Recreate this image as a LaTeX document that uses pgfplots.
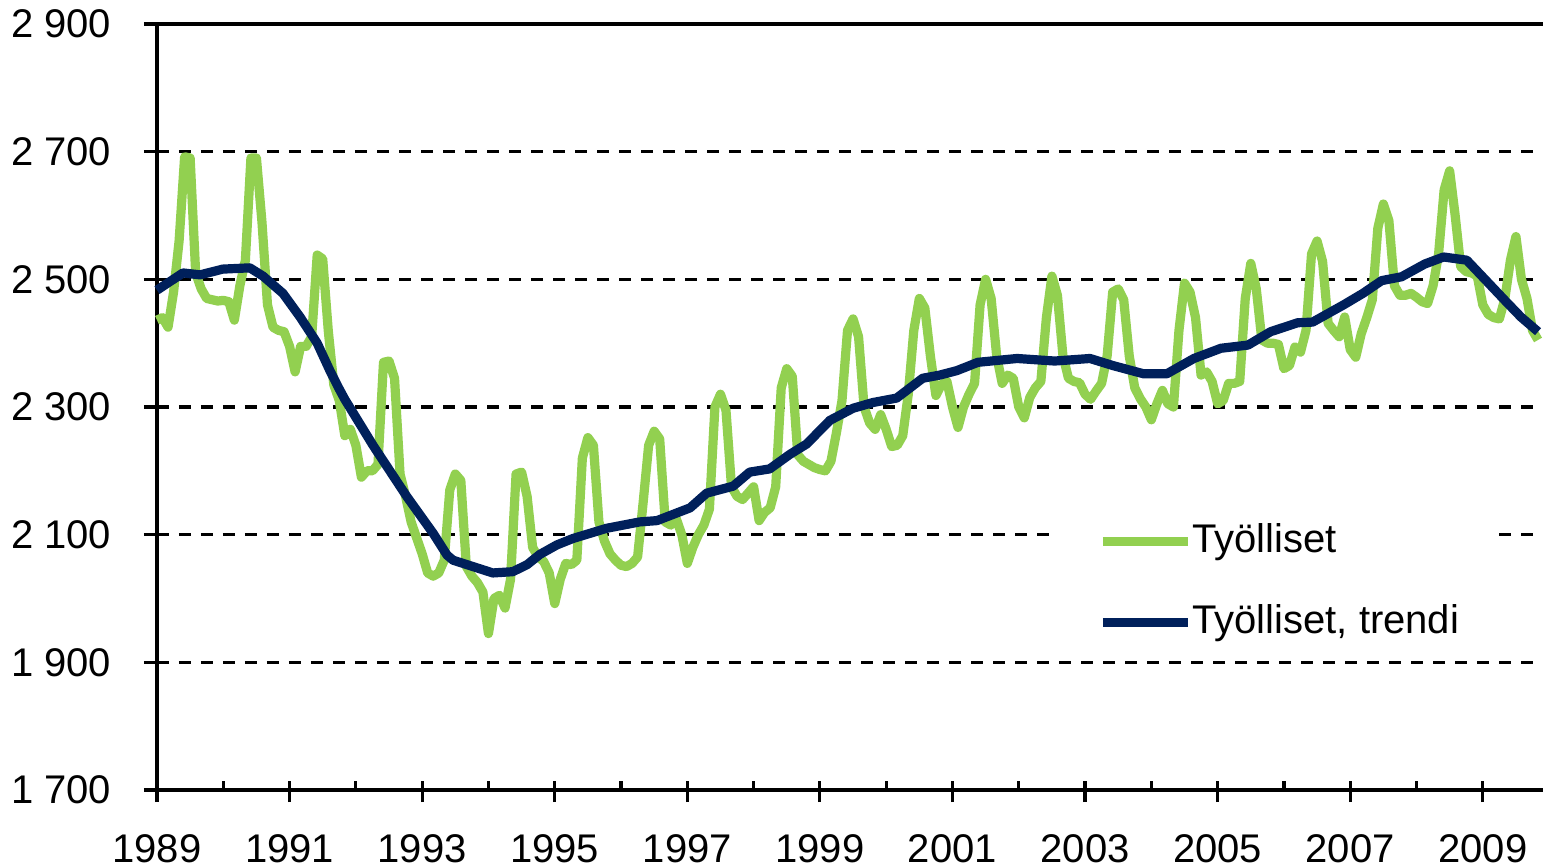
\documentclass[border=0pt]{standalone}
\usepackage{fontspec}
\setmainfont{Liberation Sans}
\usepackage{pgfplots}
\usepackage{pgfplotstable}
\pgfplotsset{compat=1.18}
\definecolor{tgreen}{HTML}{92D050}
\definecolor{tnavy}{HTML}{00205B}

\pgfplotstableread{
m g
0 2436
1 2440
2 2425
3 2480
4 2560
5 2692
6 2690
7 2510
8 2485
9 2470
10 2468
11 2466
12 2467
13 2465
14 2436
15 2490
16 2530
17 2690
18 2690
19 2590
20 2460
21 2425
22 2420
23 2418
24 2395
25 2355
26 2395
27 2395
28 2410
29 2538
30 2532
31 2420
32 2335
33 2310
34 2255
35 2265
36 2240
37 2190
38 2200
39 2200
40 2210
41 2370
42 2372
43 2345
44 2195
45 2160
46 2120
47 2095
48 2070
49 2040
50 2035
51 2040
52 2060
53 2170
54 2195
55 2185
56 2050
57 2035
58 2025
59 2010
60 1945
61 2000
62 2005
63 1985
64 2030
65 2195
66 2198
67 2160
68 2080
69 2065
70 2058
71 2040
72 1992
73 2030
74 2055
75 2053
76 2060
77 2220
78 2252
79 2240
80 2120
81 2090
82 2070
83 2060
84 2052
85 2050
86 2055
87 2065
88 2150
89 2240
90 2262
91 2250
92 2120
93 2115
94 2125
95 2100
96 2055
97 2080
98 2100
99 2115
100 2140
101 2300
102 2320
103 2295
104 2175
105 2160
106 2155
107 2165
108 2175
109 2122
110 2135
111 2142
112 2175
113 2330
114 2360
115 2348
116 2225
117 2215
118 2210
119 2205
120 2202
121 2200
122 2215
123 2260
124 2310
125 2420
126 2438
127 2410
128 2300
129 2275
130 2265
131 2288
132 2265
133 2238
134 2240
135 2255
136 2320
137 2420
138 2470
139 2455
140 2380
141 2318
142 2335
143 2340
144 2300
145 2268
146 2300
147 2320
148 2337
149 2460
150 2500
151 2470
152 2380
153 2337
154 2350
155 2345
156 2300
157 2283
158 2315
159 2330
160 2340
161 2440
162 2505
163 2475
164 2380
165 2345
166 2340
167 2338
168 2320
169 2312
170 2325
171 2337
172 2380
173 2480
174 2485
175 2468
176 2380
177 2330
178 2313
179 2300
180 2280
181 2305
182 2326
183 2305
184 2300
185 2420
186 2494
187 2480
188 2440
189 2350
190 2355
191 2340
192 2305
193 2310
194 2337
195 2337
196 2340
197 2470
198 2525
199 2485
200 2405
201 2400
202 2400
203 2398
204 2360
205 2365
206 2394
207 2386
208 2420
209 2540
210 2560
211 2528
212 2431
213 2420
214 2410
215 2441
216 2390
217 2378
218 2415
219 2440
220 2468
221 2580
222 2618
223 2592
224 2490
225 2475
226 2475
227 2478
228 2472
229 2465
230 2462
231 2490
232 2540
233 2640
234 2670
235 2600
236 2520
237 2512
238 2510
239 2505
240 2460
241 2445
242 2440
243 2438
244 2470
245 2530
246 2567
247 2500
248 2470
249 2420
250 2405
}\tyolliset

\pgfplotstableread{
m t
0 2483
4.7 2510
7.8 2507
11.9 2516
16.8 2518
19.2 2505
22.8 2478
25.9 2441
29 2400
31.3 2357
33 2328
34 2312
39.1 2240
45.2 2160
50 2102
52.5 2068
53.6 2060
57.2 2050
60.8 2040
64.4 2042
67 2053
69.3 2069
72.4 2084
75.3 2094
81.4 2110
87.4 2120
90.5 2122
96.5 2142
99.5 2165
104.3 2176
107.3 2198
110.9 2203
114.6 2226
117.6 2242
121.8 2279
126 2298
129.6 2307
133.9 2314
138.6 2345
141.7 2350
144.8 2357
148.6 2370
155.7 2376
162.5 2372
168.9 2376
173 2365
178.6 2352
182.8 2352
187.7 2376
192.6 2392
197.5 2397
201.6 2418
206.5 2432
209.2 2433
214.8 2460
218.3 2478
221.7 2498
225.3 2504
229.5 2524
232.9 2535
237.1 2530
240.5 2499
244 2467
246.9 2441
250 2418
}\trendi

\begin{document}
\begin{tikzpicture}
\begin{axis}[
  at={(39.25pt,19pt)}, anchor=south west,
  scale only axis, width=346.5pt, height=191.5pt,
  xmin=0, xmax=250.9, ymin=1700, ymax=2900,
  axis x line*=bottom, axis y line*=left,
  axis line style={line width=1pt, black},
  xtick={0,24,...,240},
  xticklabels={1989,1991,1993,1995,1997,1999,2001,2003,2005,2007,2009},
  minor xtick={12,36,...,228},
  ytick={1700,1900,...,2700},
  extra y ticks={2900},
  extra y tick style={grid style={solid, black, line width=1pt}},
  ymajorgrids,
  grid style={black, line width=0.9pt, dash pattern=on 3pt off 2.5pt},
  tick align=outside,
  major tick length=5.25pt, minor tick length=2.25pt,
  tick style={black, line width=0.8pt},
  every x tick/.append style={yshift=2.25pt},
  every y tick/.append style={xshift=2pt},
  /pgf/number format/assume math mode=true,
  /pgf/number format/1000 sep={\hspace{2.78pt}},
  tick label style={font=\fontsize{10}{12}\selectfont},
  yticklabel style={anchor=east, inner sep=0pt, xshift=-6pt},
  xticklabel style={anchor=north, inner sep=0pt, yshift=-5.75pt},
  legend style={at={(0.646,0.376)}, anchor=north west, draw=none, fill=white,
    inner xsep=7.5pt, inner ysep=2pt, row sep=4.9pt,
    font=\fontsize{10}{12}\selectfont,
    nodes={inner xsep=0pt, inner ysep=3.3pt}},
  legend cell align=left,
  legend image code/.code={\path (0pt,0pt); \draw[#1] (3.75pt,0pt) -- (25pt,0pt);},
  clip=false,
]
\addplot[tgreen, line width=2.3pt, line join=round] table[x=m, y=g] {\tyolliset};
\addlegendentry{Työlliset}
\addplot[tnavy, line width=2.3pt, line join=round] table[x=m, y=t] {\trendi};
\addlegendentry{Työlliset, trendi}
\end{axis}
\pgfresetboundingbox
\path[use as bounding box] (0pt,0pt) rectangle (385.75pt,216.5pt);
\end{tikzpicture}
\end{document}
